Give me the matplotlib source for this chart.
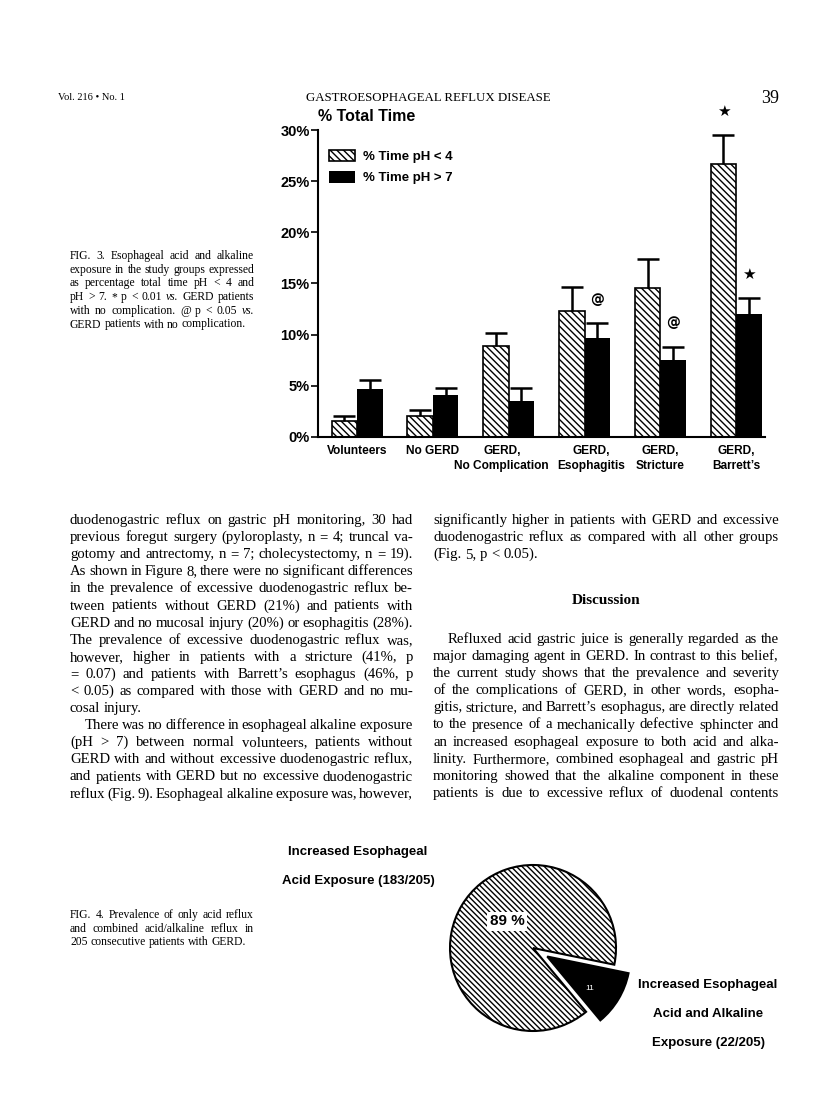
import numpy as np
import matplotlib
matplotlib.use("Agg")
import matplotlib.pyplot as plt

W, H = 816, 1104
SANS = "Liberation Sans"
SERIF = "Liberation Serif"

# Fig. 3 data (% total time)
groups = ["Volunteers", "No GERD", "GERD,\nNo Complication", "GERD,\nEsophagitis",
          "GERD,\nStricture", "GERD,\nBarrett\u2019s"]
acid = [1.6, 2.1, 8.9, 12.3, 14.6, 26.7]
acid_err = [0.5, 0.5, 1.3, 2.4, 2.8, 2.8]
alkaline = [4.7, 4.1, 3.5, 9.7, 7.5, 12.0]
alkaline_err = [0.9, 0.7, 1.3, 1.4, 1.3, 1.6]
yticks = [0, 5, 10, 15, 20, 25, 30]
ytick_labels = ["0%", "5%", "10%", "15%", "20%", "25%", "30%"]
series_names = ["% Time pH < 4", "% Time pH > 7"]
# significance marks: (group, series 0=acid 1=alkaline, symbol)
marks = [(3, 1, "@"), (4, 1, "@"), (5, 0, "*"), (5, 1, "*")]

# Fig. 4 data
pie_counts = [183, 22]
pie_pct = ["89 %", "11"]

header_left = "Vol. 216 \u2022 No. 1"
header_mid = "GASTROESOPHAGEAL REFLUX DISEASE"
header_page = "39"

cap3 = ["FIG. 3. Esophageal acid and alkaline",
        "exposure in the study groups expressed",
        "as percentage total time pH < 4 and",
        "pH > 7. * p < 0.01 _vs. GERD patients",
        "with no complication. @ p < 0.05 _vs.",
        "GERD patients with no complication."]
cap4 = ["FIG. 4. Prevalence of only acid reflux",
        "and combined acid/alkaline reflux in",
        "205 consecutive patients with GERD."]

left_col = ["duodenogastric reflux on gastric pH monitoring, 30 had",
            "previous foregut surgery (pyloroplasty, n = 4; truncal va-",
            "gotomy and antrectomy, n = 7; cholecystectomy, n = 19).",
            "As shown in Figure 8, there were no significant differences",
            "in the prevalence of excessive duodenogastric reflux be-",
            "tween patients without GERD (21%) and patients with",
            "GERD and no mucosal injury (20%) or esophagitis (28%).",
            "The prevalence of excessive duodenogastric reflux was,",
            "however, higher in patients with a stricture (41%, p",
            "= 0.07) and patients with Barrett\u2019s esophagus (46%, p",
            "< 0.05) as compared with those with GERD and no mu-",
            "cosal injury.",
            "There was no difference in esophageal alkaline exposure",
            "(pH > 7) between normal volunteers, patients without",
            "GERD with and without excessive duodenogastric reflux,",
            "and patients with GERD but no excessive duodenogastric",
            "reflux (Fig. 9). Esophageal alkaline exposure was, however,"]
right_top = ["significantly higher in patients with GERD and excessive",
             "duodenogastric reflux as compared with all other groups",
             "(Fig. 5, p < 0.05)."]
right_bottom = ["Refluxed acid gastric juice is generally regarded as the",
                "major damaging agent in GERD. In contrast to this belief,",
                "the current study shows that the prevalence and severity",
                "of the complications of GERD, in other words, esopha-",
                "gitis, stricture, and Barrett\u2019s esophagus, are directly related",
                "to the presence of a mechanically defective sphincter and",
                "an increased esophageal exposure to both acid and alka-",
                "linity. Furthermore, combined esophageal and gastric pH",
                "monitoring showed that the alkaline component in these",
                "patients is due to excessive reflux of duodenal contents"]

plt.rcParams["hatch.linewidth"] = 1.0
fig = plt.figure(figsize=(W / 100, H / 100), dpi=100)
fig.patch.set_facecolor("white")


def fx(x):
    return x / W


def fy(y):
    return 1 - y / H


rend = fig.canvas.get_renderer()


def justified(lines, x0, x1, y0, dy, size, indent=(), last=()):
    # lay words out one by one so both edges of the column line up
    t1 = fig.text(0, 0, "a a", family=SERIF, size=size)
    t2 = fig.text(0, 0, "aa", family=SERIF, size=size)
    sp = t1.get_window_extent(rend).width - t2.get_window_extent(rend).width
    t1.remove()
    t2.remove()
    for i, line in enumerate(lines):
        yb = fy(y0 + i * dy)
        left = x0 + (15 if i in indent else 0)
        words = line.split()
        texts, widths = [], []
        for w in words:
            style = "normal"
            if w.startswith("_"):
                w, style = w[1:], "italic"
            t = fig.text(0, yb, w, family=SERIF, size=size, style=style, va="baseline")
            texts.append(t)
            widths.append(t.get_window_extent(rend).width)
        if i in last or len(words) == 1:
            gap = sp
        else:
            gap = (x1 - left - sum(widths)) / (len(words) - 1)
        x = left
        for t, w in zip(texts, widths):
            t.set_x(fx(x))
            x += w + gap


# page header
fig.text(fx(58), fy(100), header_left, family=SERIF, size=7.5, va="baseline")
fig.text(fx(428), fy(101), header_mid, family=SERIF, size=9.3, ha="center", va="baseline")
fig.text(fx(779), fy(103), header_page, family=SERIF, size=13, ha="right", va="baseline")

# ---- Fig. 3 bar chart
ax = fig.add_axes([fx(318), fy(437), (765 - 318) / W, (437 - 130) / H])
x = np.arange(len(groups))
bw = 0.336
b1 = ax.bar(x - bw / 2, acid, bw, facecolor="white", edgecolor="black",
            hatch="\\\\\\\\\\", linewidth=1.2, label=series_names[0])
b2 = ax.bar(x + bw / 2, alkaline, bw, color="black", label=series_names[1])
for xs, v, e in [(x - bw / 2, acid, acid_err), (x + bw / 2, alkaline, alkaline_err)]:
    eb = ax.errorbar(xs, v, yerr=[np.zeros(len(v)), e], fmt="none", ecolor="black",
                     elinewidth=1.8, capsize=8, capthick=1.8)
    eb[1][0].set_visible(False)

for g, s, sym in marks:
    xs = x[g] + (bw / 2 if s else -bw / 2)
    top = (alkaline[g] + alkaline_err[g]) if s else (acid[g] + acid_err[g])
    txt = "\u2605" if sym == "*" else "@"
    ax.text(xs, top + 2.3, txt, ha="center", va="center", size=11 if sym == "*" else 10,
            weight="bold", family=["DejaVu Sans"], clip_on=False)

ax.set_xlim(-0.515, 5.38)
ax.set_ylim(0, 30)
ax.set_yticks(yticks)
ax.set_yticklabels(ytick_labels, family=SANS, weight="bold", size=10.5)
ax.set_xticks([])
# category labels; the two middle ones sit slightly apart as in the print
label_dx = [0, 0, -5, 5, 0, 0]
for i, (g, dx) in enumerate(zip(groups, label_dx)):
    ax.annotate(g, xy=(x[i], 0), xycoords=("data", "axes fraction"), xytext=(dx, -6),
                textcoords="offset points", ha="center", va="top", family=SANS,
                weight="bold", size=8.6, linespacing=1.35)
ax.tick_params(axis="y", length=5, width=1.2, pad=1)
for sp in ["top", "right"]:
    ax.spines[sp].set_visible(False)
for sp in ["left", "bottom"]:
    ax.spines[sp].set_linewidth(1.5)
ax.text(-0.515, 31.3, "% Total Time", family=SANS, weight="bold", size=11.5,
        ha="left", va="center", clip_on=False)
ax.legend(handles=[b1, b2], loc="upper left", bbox_to_anchor=(fx(329), fy(150)),
          bbox_transform=fig.transFigure, frameon=False, borderpad=0, borderaxespad=0,
          handlelength=2.0, handleheight=0.95, handletextpad=0.6, labelspacing=0.6,
          prop={"family": SANS, "weight": "bold", "size": 9.5})

justified(cap3, 70, 254, 259, 13.7, 8.4, last=(5,))

# ---- body text
justified(left_col, 70, 413, 524, 17.1, 10.6, indent=(12,), last=(11,))
justified(right_top, 433, 779, 524, 17.1, 10.6, last=(2,))
fig.text(fx(606), fy(604), "Discussion", family=SERIF, weight="bold", size=11,
         ha="center", va="baseline")
justified(right_bottom, 433, 779, 643, 17.1, 10.6, indent=(0,))

# ---- Fig. 4 pie chart
justified(cap4, 70, 254, 918, 13.7, 8.4, last=(2,))
R = 83
axp = fig.add_axes([fx(533 - 1.3 * R), fy(948 + 1.3 * R), 2.6 * R / W, 2.6 * R / H])
wedges, _ = axp.pie(pie_counts, startangle=-11.6, explode=[0, 0.2],
                    colors=["white", "black"],
                    wedgeprops={"edgecolor": "black", "linewidth": 1.5})
wedges[0].set_hatch("\\\\\\\\\\\\")
axp.set_xlim(-1.3, 1.3)
axp.set_ylim(-1.3, 1.3)
axp.set_aspect("equal")
axp.axis("off")
axp.text(-0.31, 0.32, pie_pct[0], family=SANS, weight="bold", size=11, ha="center",
         va="center", bbox={"facecolor": "white", "edgecolor": "none", "pad": 2})
axp.text(0.68, -0.49, pie_pct[1], family=SANS, size=6, color="white", ha="center", va="center")

fig.text(fx(358), fy(852), "Increased Esophageal", family=SANS, weight="bold", size=9.5,
         ha="center", va="center")
fig.text(fx(358), fy(881), "Acid Exposure (183/205)", family=SANS, weight="bold", size=9.5,
         ha="center", va="center")
for i, s in enumerate(["Increased Esophageal", "Acid and Alkaline", "Exposure (22/205)"]):
    fig.text(fx(708), fy(985 + 29 * i), s, family=SANS, weight="bold", size=9.5,
             ha="center", va="center")

fig.savefig("out.png", dpi=100, facecolor="white")
